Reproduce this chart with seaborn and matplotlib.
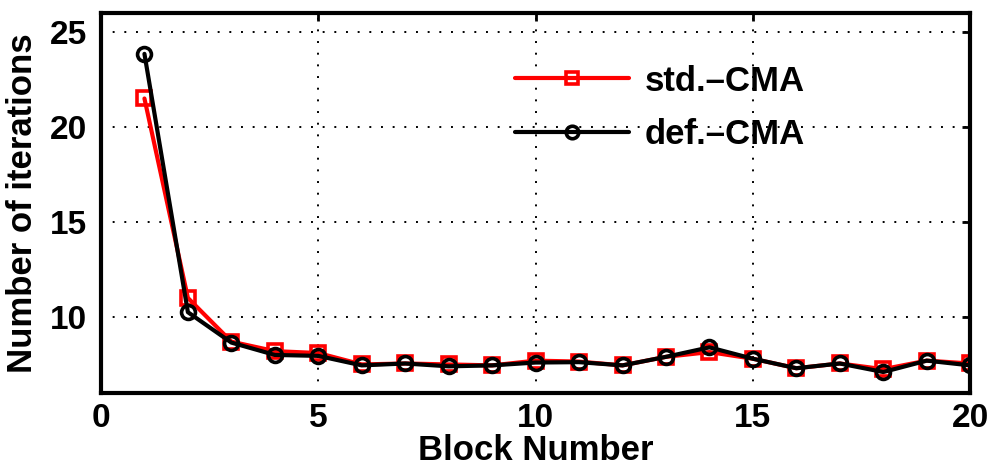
import numpy as np
import pandas as pd
import seaborn as sns
import matplotlib.pyplot as plt
from matplotlib.lines import Line2D

# values
blocks = list(range(1, 21))
std_cma = [21.5, 11.0, 8.7, 8.2, 8.1, 7.5, 7.55, 7.5, 7.45, 7.7, 7.65, 7.45, 7.9, 8.15, 7.8, 7.3, 7.55, 7.25, 7.7, 7.55]
def_cma = [23.85, 10.25, 8.65, 8.0, 7.95, 7.45, 7.55, 7.4, 7.45, 7.6, 7.62, 7.45, 7.9, 8.4, 7.8, 7.3, 7.55, 7.1, 7.7, 7.45]
labels = ['std.\u2013CMA', 'def.\u2013CMA']
colors = ['red', 'black']
markers = ['s', 'o']

df = pd.DataFrame({'block': blocks * 2,
                   'iters': std_cma + def_cma,
                   'method': [labels[0]] * 20 + [labels[1]] * 20})

sns.set_style('white')
plt.rcParams['font.family'] = ['Liberation Sans', 'DejaVu Sans']
plt.rcParams['font.weight'] = 'bold'
for k in ['text.color', 'axes.labelcolor', 'xtick.color', 'ytick.color']:
    plt.rcParams[k] = 'black'

fig = plt.figure(figsize=(9.9, 4.65), dpi=100)
ax = fig.add_axes([0.102, 0.155, 0.878, 0.817])

sns.lineplot(data=df, x='block', y='iters', hue='method', style='method',
             palette=colors, markers=markers, dashes=False, linewidth=3,
             markersize=10, markerfacecolor='none', markeredgewidth=2.6,
             legend=False, ax=ax)
for ln, c in zip(ax.lines, colors):
    ln.set_markeredgecolor(c)

ax.set_xlim(0, 20)
ax.set_ylim(6, 26)
ax.set_xticks([0, 5, 10, 15, 20])
ax.set_yticks([10, 15, 20, 25])
ax.grid(True, color='black', linestyle=(0, (1, 5)), linewidth=1.4)
ax.tick_params(direction='in', length=6, width=2, top=True, right=True,
               labelsize=24, pad=10)
ax.tick_params(axis='x', pad=7)
for lab in ax.get_xticklabels() + ax.get_yticklabels():
    lab.set_fontweight('bold')
for sp in ax.spines.values():
    sp.set_linewidth(3)
    sp.set_color('black')

ax.set_xlabel('Block Number', fontsize=25, fontweight='bold', labelpad=0)
ax.set_ylabel('Number of iterations', fontsize=25, fontweight='bold', labelpad=8)

handles = [Line2D([], [], color=c, marker=m, linewidth=3, markersize=9,
                  markerfacecolor='none', markeredgewidth=2.6)
           for c, m in zip(colors, markers)]
leg = ax.legend(handles, labels, loc='center left', bbox_to_anchor=(0.476, 0.75),
                frameon=False, fontsize=25, handlelength=3.3, handletextpad=0.45,
                labelspacing=0.6, borderpad=0, borderaxespad=0)
for t in leg.get_texts():
    t.set_fontweight('bold')

fig.savefig('out.png', dpi=100)
